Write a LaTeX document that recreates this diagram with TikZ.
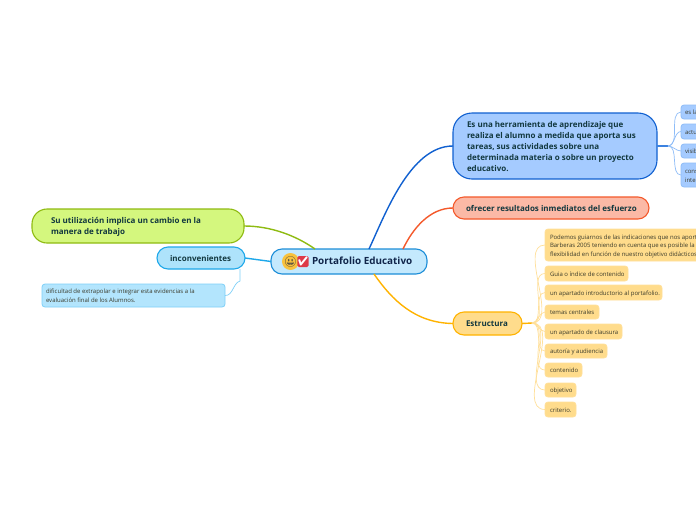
\documentclass[tikz,border=0pt]{standalone}
\usepackage{fontspec}
\setmainfont{Open Sans}
\newfontfamily\emojifont{Noto Emoji}
\definecolor{rootfill}{HTML}{C4E9FD}\definecolor{rootline}{HTML}{1D8ED8}
\definecolor{bluefill}{HTML}{A5CBFF}\definecolor{blueline}{HTML}{1060D0}
\definecolor{bluestub}{HTML}{3B82E0}
\definecolor{bluekid}{HTML}{A5CBFF}\definecolor{bluekidline}{HTML}{8FBDF8}
\definecolor{redfill}{HTML}{FBB9A6}\definecolor{redline}{HTML}{F4592B}
\definecolor{yelfill}{HTML}{FFDC8C}\definecolor{yelline}{HTML}{FFB300}
\definecolor{yelkidline}{HTML}{FFE09A}
\definecolor{grnfill}{HTML}{D4F77E}\definecolor{grnline}{HTML}{8FBB12}
\definecolor{cyanfill}{HTML}{AEE3FB}\definecolor{cyanline}{HTML}{1EA8EA}
\definecolor{cyankid}{HTML}{B3E5FD}\definecolor{cyankidline}{HTML}{7FD0F8}
\definecolor{inkdark}{HTML}{12383F}\definecolor{inkroot}{HTML}{10254A}\definecolor{inksmall}{HTML}{3A3A2A}
\definecolor{smilefill}{HTML}{F9C23C}\definecolor{checkfill}{HTML}{DD3A48}
\tikzset{
  box/.style={anchor=north west,outer sep=0pt,inner ysep=0pt},
  mainbox/.style={box,line width=1.1pt,rounded corners=11pt,text=inkdark,font=\fontsize{8}{11}\selectfont\bfseries},
  kidbox/.style={box,line width=.8pt,rounded corners=3pt,text=inksmall,font=\fontsize{6}{8.6}\selectfont},
  rootbox/.style={mainbox,draw=rootline,fill=rootfill,text=inkroot,font=\fontsize{9.9}{12}\selectfont\bfseries},
  bluebox/.style={mainbox,draw=blueline,fill=bluefill,rounded corners=19pt},
  redbox/.style={mainbox,draw=redline,fill=redfill},
  yelbox/.style={mainbox,draw=yelline,fill=yelfill},
  grnbox/.style={mainbox,draw=grnline,fill=grnfill,rounded corners=15pt},
  cyanbox/.style={mainbox,draw=cyanline,fill=cyanfill},
  bluekidbox/.style={kidbox,draw=bluekidline,fill=bluekid},
  yelkidbox/.style={kidbox,draw=yelkidline,fill=yelfill},
  cyankidbox/.style={kidbox,draw=cyankidline,fill=cyankid},
  link/.style={line width=1.4pt},
  thin link/.style={line width=.7pt},
  kidlink/.style={thin link,out=0,in=180,looseness=.9},
}
\newcommand{\bx}[8]{%
  \pgfmathsetmacro{\bw}{#5-#3}\pgfmathsetmacro{\bh}{#6-#4}\pgfmathsetmacro{\bt}{#5-#3-2*#7}%
  \node[#2,minimum width=\bw pt,minimum height=\bh pt,inner xsep=#7pt] (#1) at (#3,#4) {\hbox to \bt pt{\raisebox{-1pt}[\height][\depth]{\begin{tabular}{@{}l@{}}#8\end{tabular}}\hss}};}
\begin{document}
\begin{tikzpicture}[x=1pt,y=-1pt]
\useasboundingbox (0,0) rectangle (696,520);
\clip (0,0) rectangle (696,520);
\fill[white] (0,0) rectangle (696,520);
\coordinate (bhub) at (668,146);
\coordinate (yhub) at (532,323);
\bx{root}{rootbox}{271}{249}{427}{274}{41}{Portafolio Educativo}
\bx{blue}{bluebox}{453}{113}{657}{179}{14}{Es una herramienta de aprendizaje que\\realiza el alumno a medida que aporta sus\\tareas, sus actividades sobre una\\determinada materia o sobre un proyecto\\educativo.}
\bx{red}{redbox}{453}{197}{649}{219}{13}{ofrecer resultados inmediatos del esfuerzo}
\bx{est}{yelbox}{453}{312}{522}{335}{13}{Estructura}
\bx{grn}{grnbox}{32}{209}{244}{243}{19}{Su utilización implica un cambio en la\\manera de trabajo}
\bx{inc}{cyanbox}{157}{247}{245}{269}{13}{inconvenientes}
\bx{dif}{cyankidbox}{42}{284}{225}{307}{4}{dificultad de extrapolar e integrar esta evidencias a la\\evaluación final de los Alumnos.}
\bx{b1}{bluekidbox}{681}{105}{780}{119}{4}{es la}
\bx{b2}{bluekidbox}{681}{124}{780}{139}{4}{actu}
\bx{b3}{bluekidbox}{681}{144}{780}{158}{4}{visib}
\bx{b4}{bluekidbox}{681}{163}{780}{187}{4}{cons\\inte}
\bx{y1}{yelkidbox}{545}{229}{780}{261}{5}{Podemos guiarnos de las indicaciones que nos aport\\Barberas 2005 teniendo en cuenta que es posible la\\flexibilidad en función de nuestro objetivo didácticos.}
\bx{y2}{yelkidbox}{545}{266}{628}{281}{5}{Guia o índice de contenido}
\bx{y3}{yelkidbox}{545}{285}{662}{300}{5}{un apartado introductorio al portafolio.}
\bx{y4}{yelkidbox}{545}{305}{599}{319}{5}{temas centrales}
\bx{y5}{yelkidbox}{545}{324}{622}{339}{5}{un apartado de clausura}
\bx{y6}{yelkidbox}{545}{344}{607}{358}{5}{autoría y audiencia}
\bx{y7}{yelkidbox}{545}{363}{582}{377}{5}{contenido}
\bx{y8}{yelkidbox}{545}{383}{576}{397}{5}{objetivo}
\bx{y9}{yelkidbox}{545}{402}{576}{417}{5}{criterio.}
\node[circle,fill=smilefill,inner sep=0pt,minimum size=10.5pt,font=\emojifont\fontsize{10.5}{10.5}\selectfont,text=black!75] (smile) at (290.5,261.5) {😃};
\node[rectangle,rounded corners=1.5pt,fill=checkfill,inner sep=0pt,minimum size=11pt,font=\emojifont\fontsize{9}{9}\selectfont,text=white] (check) at (303,261.5) {✔};
\draw[link,blueline] ([xshift=20pt]root.north) .. controls (385,215) and (410,146) .. (blue.west);
\draw[link,redline] ([xshift=54pt]root.north) .. controls (413,228) and (430,208) .. (red.west);
\draw[link,yelline] ([xshift=25pt]root.south) .. controls (392,300) and (415,323) .. (est.west);
\draw[link,grnline] ([xshift=-34pt]root.north) .. controls (295,235) and (270,226) .. (grn.east);
\draw[link,cyanline] (root.west) -- (inc.east);
\draw[thin link,cyankidline] ([xshift=-5pt]inc.south east) -- ++(0,12) .. controls (233,283) and (233,296) .. (dif.east);
\draw[link,bluestub] (blue.east) -- (bhub);
\draw[link,yelline] (est.east) -- (yhub);
\foreach \k in {b1,b2,b3,b4}{\draw[kidlink,bluekidline] (bhub) to (\k.west);}
\foreach \k in {y1,y2,y3,y4,y5,y6,y7,y8,y9}{\draw[kidlink,yelkidline] (yhub) to (\k.west);}
\end{tikzpicture}
\end{document}
